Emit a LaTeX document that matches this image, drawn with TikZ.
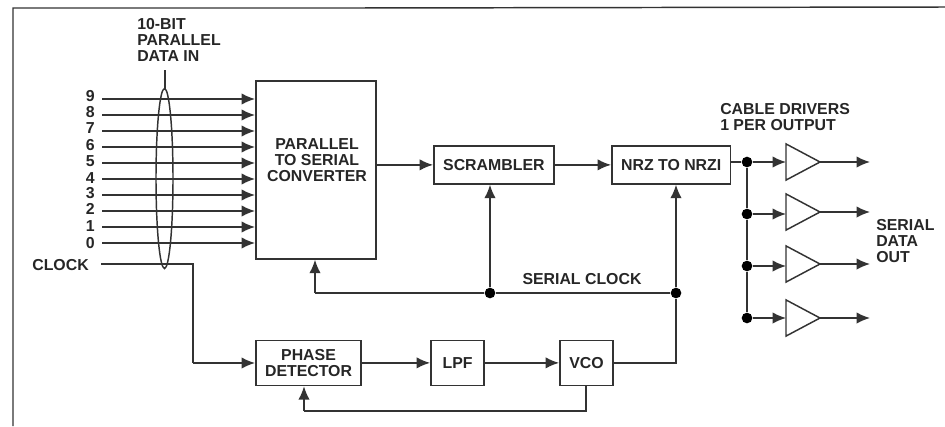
\documentclass[tikz,border=0pt]{standalone}
\usepackage{fontspec}
\setmainfont{Liberation Sans}
\usetikzlibrary{arrows.meta,shapes.geometric}
\definecolor{ink}{HTML}{333333}
\tikzset{
  x=.75pt,y=-.75pt,
  lbl/.style={font=\bfseries\fontsize{11.9}{12}\selectfont,text=black!85,inner sep=0pt},
  leftlbl/.style={lbl,align=left,anchor=west},
  blockbox/.style={draw=ink,line width=1.3pt,fill=white,inner sep=0pt,lbl,align=center},
  wire/.style={draw=ink,line width=1.1pt},
  arrowed/.style={wire,-{Latex[length=10pt,width=8.5pt]}},
  dotmark/.style={circle,fill=black,inner sep=0pt,minimum size=8pt},
  drv/.style={draw=ink,line width=1.1pt,fill=white,isosceles triangle,isosceles triangle apex angle=56,minimum height=25.5pt,inner sep=0pt,outer sep=0pt,anchor=west},
  busring/.style={draw=ink,line width=1.1pt}
}
\begin{document}
\begin{tikzpicture}
\useasboundingbox (0,0) rectangle (945,426);
\draw[ink,line width=1.1pt] (13,426) -- (13,8) -- (352,8) -- (945,7);
% blocks
\node[blockbox,minimum width=90pt,minimum height=133.5pt,anchor=north west] (conv) at (255,80) {};
\node[lbl,align=center] (convtext) at (317,160) {PARALLEL\\TO SERIAL\\CONVERTER};
\node[blockbox,minimum width=90pt,minimum height=28.5pt,anchor=north west] (scr) at (433,145) {SCRAMBLER};
\node[blockbox,minimum width=89pt,minimum height=28.5pt,anchor=north west] (nrz) at (611,145) {NRZ TO NRZI};
\node[blockbox,minimum width=79pt,minimum height=33.75pt,anchor=north west] (pd) at (255,339.5) {PHASE\\DETECTOR};
\node[blockbox,minimum width=40pt,minimum height=33.75pt,anchor=north west] (lpf) at (430,339.5) {LPF};
\node[blockbox,minimum width=40pt,minimum height=33.75pt,anchor=north west] (vco) at (559,339.5) {VCO};
% bus
\foreach \n/\yy/\ly in {9/99/96,8/115/112,7/131/128,6/147/145,5/163/161,4/179/178,3/195/193,2/211/209,1/227/226,0/243/243}{
  \node[lbl,anchor=east] (b\n) at (95,\ly) {\n};
  \coordinate (s\n) at (102,\yy);
  \coordinate (e\n) at (conv.west |- 0,\yy);
  \draw[arrowed] (s\n) -- (e\n);
}
\draw[busring] (164.5,178.5) ellipse (8.5 and 90);
\node[lbl,anchor=east] (clk) at (89,265) {CLOCK};
\coordinate (c0) at (101,264);
\coordinate (c1) at (193,264);
\coordinate (c2) at (193,363);
\draw[wire,line join=miter] (c0) -- (c1) -- (c2);
\draw[arrowed] (c2) -- (pd.west |- c2);
\node[leftlbl,anchor=north west] (title) at (137,18) {10-BIT\\PARALLEL\\DATA IN};
\coordinate (t0) at (165,70);
\coordinate (t1) at (165,89);
\draw[wire] (t0) -- (t1);
% main chain
\coordinate (conv1) at (conv.east |- scr.west);
\draw[arrowed] (conv1) -- (scr.west);
\draw[arrowed] (scr.east) -- (nrz.west);
% serial clock
\node[dotmark] (j1) at (490,293) {};
\node[dotmark] (j2) at (676,293) {};
\coordinate (k0) at (315,293);
\draw[wire] (j2) -- (j1) -- (k0);
\draw[arrowed] (k0) -- (conv.south -| k0);
\draw[arrowed] (j1) -- (scr.south -| j1);
\draw[arrowed] (j2) -- (nrz.south -| j2);
\node[lbl,anchor=center] (sc) at (582,279) {SERIAL CLOCK};
% pll
\draw[arrowed] (pd.east) -- (lpf.west);
\draw[arrowed] (lpf.east) -- (vco.west);
\draw[wire] (vco.east) -| (j2);
\coordinate (f0) at (586,411);
\coordinate (f1) at (304,411);
\draw[wire] (vco.south -| f0) -- (f0) -- (f1);
\draw[arrowed] (f1) -- (pd.south -| f1);
% drivers
\foreach \i/\jy/\ty in {1/162/162,2/214/212,3/266/264,4/318/318}{
  \node[dotmark] (d\i) at (747,\jy) {};
  \node[drv] (t\i) at (786,\ty) {};
  \coordinate (o\i) at (870,\ty);
  \draw[arrowed] (d\i) -- (d\i -| t\i.west);
  \draw[arrowed] (t\i.east) -- (o\i);
}
\draw[wire] (nrz.east |- d1) -- (d1);
\draw[wire] (d1) -- (d2) -- (d3) -- (d4);
\node[leftlbl] (cd) at (720,117) {CABLE DRIVERS\\1 PER OUTPUT};
\node[leftlbl] (sdo) at (876,241) {SERIAL\\DATA\\OUT};
\end{tikzpicture}
\end{document}
